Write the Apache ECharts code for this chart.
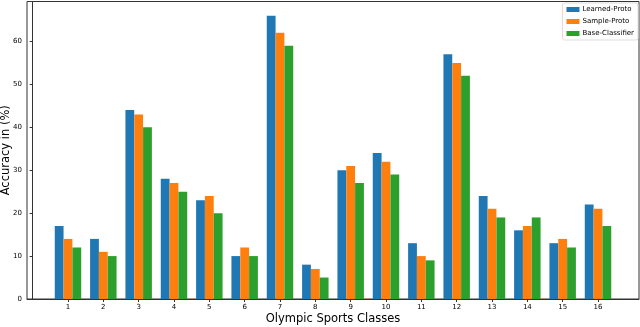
<!DOCTYPE html>
<html><head><meta charset="utf-8">
<script src="https://cdn.jsdelivr.net/npm/echarts@6/dist/echarts.min.js"></script>
<style>html,body{margin:0;padding:0;background:#fff}#c{width:640px;height:327px}</style>
</head><body><div id="c"></div>
<script>
const categories = [1,2,3,4,5,6,7,8,9,10,11,12,13,14,15,16];
const learnedProto = [17,14,44,28,23,10,66,8,30,34,13,57,24,16,13,22];
const sampleProto  = [14,11,43,27,24,12,62,7,31,32,10,55,21,17,14,21];
const baseClassifier = [12,10,40,25,20,10,59,5,27,29,9,52,19,19,12,17];
const seriesNames = ['Learned-Proto','Sample-Proto','Base-Classifier'];
const colors = ['#1f77b4','#ff7f0e','#2ca02c'];
const offsets = [-0.25, 0, 0.25];
const yTicks = [0,10,20,30,40,50,60];

const chart = echarts.init(document.getElementById('c'));
const font = 'DejaVu Sans';
const allSeries = [learnedProto, sampleProto, baseClassifier].map((vals, k) => ({
  name: seriesNames[k],
  type: 'bar',
  barWidth: 8.8,
  barGap: '-100%',
  itemStyle: {color: colors[k]},
  data: vals.map((v, i) => [categories[i] + offsets[k], v])
}));
chart.setOption({
  animation: false,
  grid: {left: 27, right: 1, top: 1.5, bottom: 28, show: true, borderColor: '#333', borderWidth: 1,
         containLabel: false, outerBoundsMode: 'none'},
  legend: {
    right: 2, top: 3, orient: 'vertical',
    itemWidth: 13, itemHeight: 5, itemGap: 5,
    padding: [3, 4, 3, 4],
    borderColor: '#ddd', borderWidth: 1, borderRadius: 2,
    backgroundColor: 'rgba(255,255,255,0.8)',
    textStyle: {fontFamily: font, fontSize: 7, color: '#000', padding: [0,0,0,-2]},
    data: seriesNames.map((n, k) => ({name: n, icon: 'rect', itemStyle: {color: colors[k]}}))
  },
  xAxis: {
    type: 'value', min: -0.16, max: 17.16,
    name: 'Olympic Sports Classes', nameLocation: 'middle', nameGap: 14, nameMoveOverlap: false,
    nameTextStyle: {fontFamily: font, fontSize: 11.5, color: '#000'},
    axisLine: {show: true, onZero: false, lineStyle: {color: '#333'}},
    axisTick: {show: true, length: 3, customValues: categories, lineStyle: {color: '#333'}},
    axisLabel: {customValues: categories, fontFamily: font, fontSize: 7, color: '#000', margin: 5},
    splitLine: {show: false}
  },
  yAxis: {
    type: 'value', min: 0, max: 69.3,
    name: 'Accuracy in (%)', nameLocation: 'middle', nameGap: 15, nameMoveOverlap: false,
    nameTextStyle: {fontFamily: font, fontSize: 11.5, color: '#000'},
    axisLine: {show: true, lineStyle: {color: '#333'}},
    axisTick: {show: true, length: 3, customValues: yTicks, lineStyle: {color: '#333'}},
    axisLabel: {customValues: yTicks, fontFamily: font, fontSize: 7, color: '#000', margin: 5},
    splitLine: {show: false}
  },
  series: allSeries
});
</script></body></html>
